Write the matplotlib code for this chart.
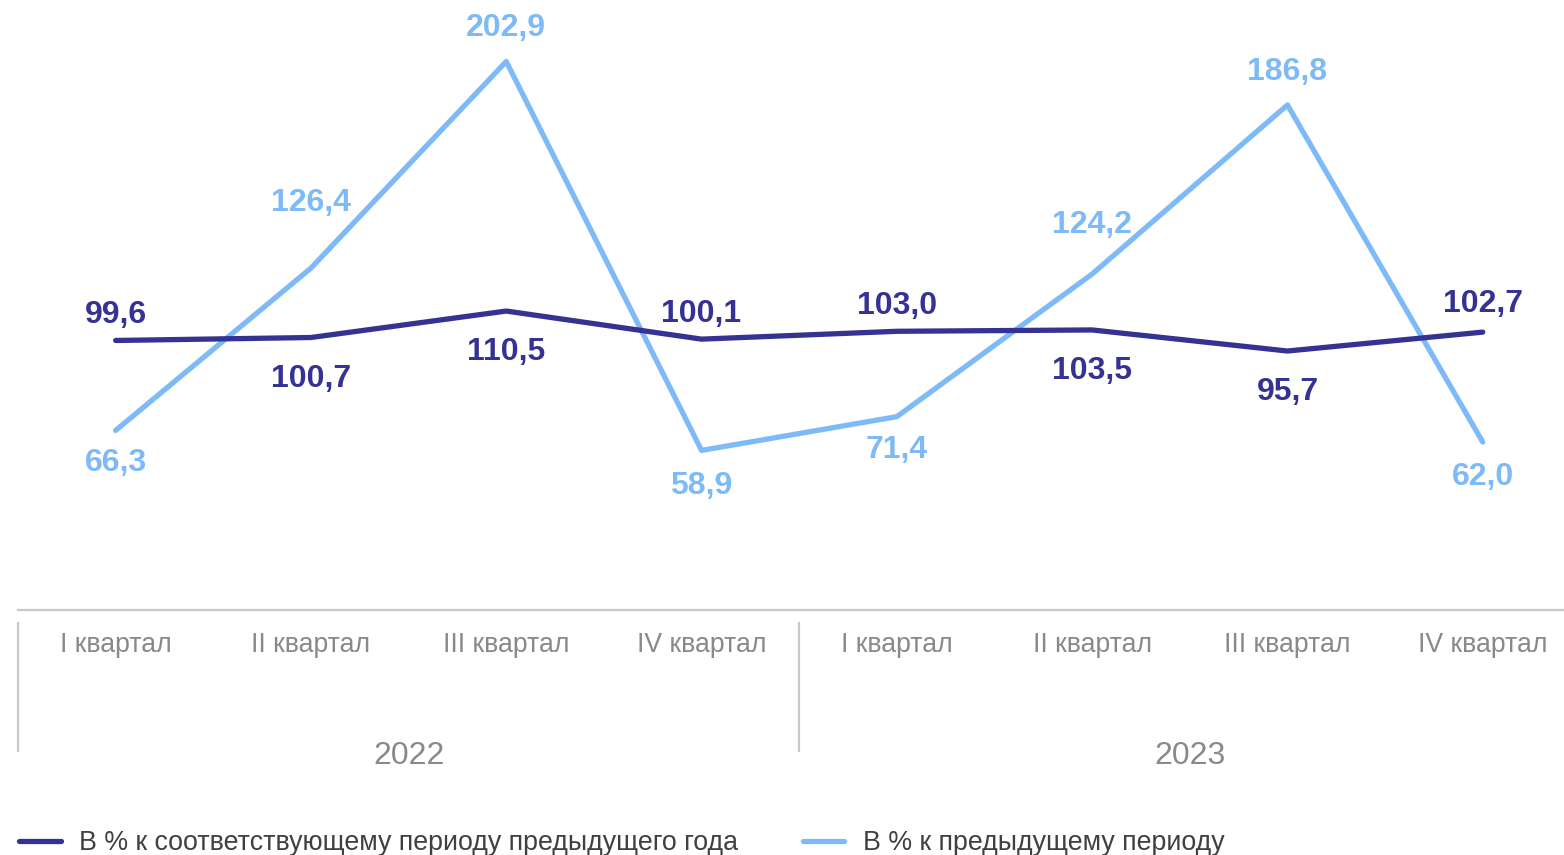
import matplotlib
matplotlib.use("Agg")
import matplotlib.pyplot as plt
from matplotlib.lines import Line2D

plt.rcParams['font.family'] = ['Liberation Sans', 'DejaVu Sans']

quarters = ["I квартал", "II квартал", "III квартал", "IV квартал",
            "I квартал", "II квартал", "III квартал", "IV квартал"]
years = ["2022", "2023"]
yoy = [99.6, 100.7, 110.5, 100.1, 103.0, 103.5, 95.7, 102.7]
qoq = [66.3, 126.4, 202.9, 58.9, 71.4, 124.2, 186.8, 62.0]
yoy_name = "В % к соответствующему периоду предыдущего года"
qoq_name = "В % к предыдущему периоду"

# label offsets (pixels, positive = up)
yoy_off = [25, -41, -41, 25, 25, -41, -41, 28]
qoq_off = [-33, 65, 33, -36, -33, 49, 33, -35]

dark = "#343394"
light = "#7dbaf7"
grid_c = "#c8c8c8"
tick_c = "#898989"

fig = plt.figure(figsize=(15.64, 8.55), dpi=100)
ax = fig.add_axes([18/1564, (855-609.5)/855, 1546/1564, 609.5/855])
x = list(range(len(quarters)))
l1, = ax.plot(x, yoy, color=dark, lw=3.8, solid_capstyle='round', solid_joinstyle='round', zorder=3)
l2, = ax.plot(x, qoq, color=light, lw=3.8, solid_capstyle='round', solid_joinstyle='round', zorder=2)

ax.set_xlim(-0.5, -0.5 + 1546/195.3)
ax.set_ylim(0, 609.5/2.701)

for i, v in enumerate(yoy):
    ax.annotate(f"{v:.1f}".replace(".", ","), (i, v), xytext=(0, yoy_off[i]),
                textcoords="offset pixels", ha="center", va="center",
                fontsize=23, fontweight="bold", color=dark, zorder=5)
for i, v in enumerate(qoq):
    ax.annotate(f"{v:.1f}".replace(".", ","), (i, v), xytext=(0, qoq_off[i]),
                textcoords="offset pixels", ha="center", va="center",
                fontsize=23, fontweight="bold", color=light, zorder=5)

for s in ["top", "left", "right"]:
    ax.spines[s].set_visible(False)
ax.spines["bottom"].set_color(grid_c)
ax.spines["bottom"].set_linewidth(1.6)
ax.set_yticks([])
ax.set_xticks(x)
ax.set_xticklabels(quarters, fontsize=19.2, color=tick_c)
ax.tick_params(axis="x", length=0, pad=16)

# group separators and year labels
trans = ax.get_xaxis_transform()
for xs in [-0.5, 3.5, 7.5]:
    ax.add_line(Line2D([xs, xs], [-13/609.5, -141/609.5], transform=trans,
                       color=grid_c, lw=1.6, clip_on=False))
for k, yr in enumerate(years):
    ax.text(1.5 + 4*k, -146/609.5, yr, transform=trans, ha="center", va="center",
            fontsize=23, color=tick_c)

fig.legend(handles=[l1, l2], labels=[yoy_name, qoq_name], loc="center left",
           bbox_to_anchor=(19/1564, 1 - 843/855), ncol=2, frameon=False,
           fontsize=19.3, handlelength=1.55, handletextpad=0.7,
           columnspacing=2.4, labelcolor="#404040", borderaxespad=0, borderpad=0)

fig.savefig("out.png", dpi=100)
